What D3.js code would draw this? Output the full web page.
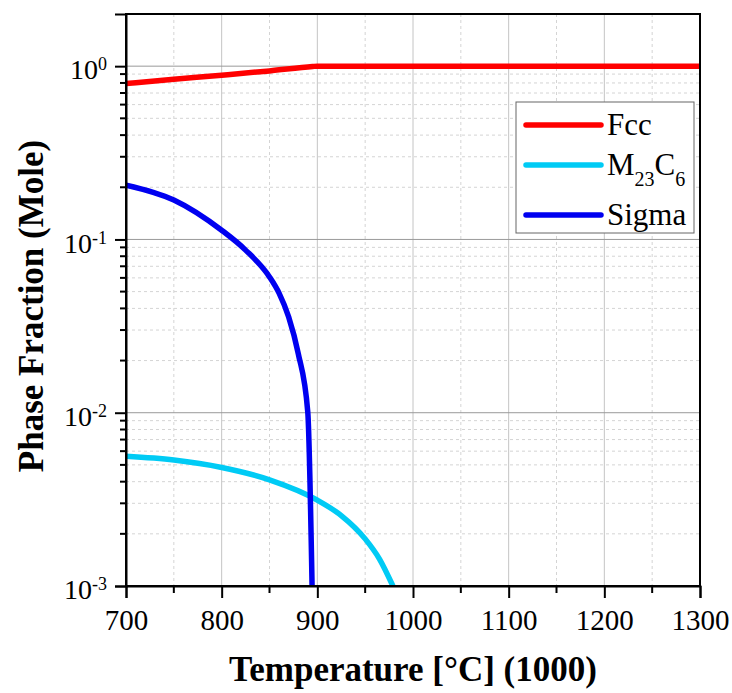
<!DOCTYPE html>
<html>
<head>
<meta charset="utf-8">
<script src="https://cdn.jsdelivr.net/npm/d3@7"></script>
<style>
  body { margin: 0; background: #fff; }
  svg { display: block; }
</style>
</head>
<body>
<script>
// values
const fccTemp = [700, 750, 800, 850, 895, 900, 1000, 1100, 1200, 1300];
const fccFrac = [0.794, 0.84, 0.887, 0.939, 0.995, 1.0, 1.0, 1.0, 1.0, 1.0];

const m23Temp = [700, 750, 800, 850, 900, 925, 950, 965, 979];
const m23Frac = [0.0056, 0.00533, 0.00483, 0.0041, 0.00313, 0.00255, 0.00187, 0.00143, 0.001];

const sigmaTemp = [700, 750, 800, 825, 850, 860, 870, 880, 890, 894.5];
const sigmaFrac = [0.206, 0.169, 0.113, 0.0868, 0.0608, 0.049, 0.0357, 0.022, 0.0101, 0.001];

const xTicks = [700, 800, 900, 1000, 1100, 1200, 1300];
const yTicks = [1e-3, 1e-2, 1e-1, 1];
const yExp = ["-3", "-2", "-1", "0"];

const seriesNames = ["Fcc", "M23C6", "Sigma"];
const seriesColors = ["#ff0000", "#00cbf5", "#0000f0"];

const serif = "'Liberation Serif', 'Times New Roman', serif";

margin = { top: 14, left: 126, bottom: 107, right: 32 };
W = 732;
H = 693;
width = W - margin.left - margin.right;
height = H - margin.top - margin.bottom;

const svg = d3.create("svg").attr("width", W).attr("height", H);

const x = d3.scaleLinear().domain([700, 1300]).range([0, width]);
const y = d3.scaleLog().domain([1e-3, 2]).range([height, 0]);

const chart = svg
  .append("g")
  .attr("transform", `translate(${margin.left},${margin.top})`);

chart.append("defs").append("clipPath").attr("id", "clip")
  .append("rect").attr("width", width).attr("height", height);

// minor grid (dashed)
const xMinor = d3.range(750, 1300, 100);
chart.append("g").selectAll("line").data(xMinor).join("line")
  .attr("x1", (d) => x(d)).attr("x2", (d) => x(d))
  .attr("y1", 0).attr("y2", height)
  .attr("stroke", "#d4d4d4").attr("stroke-dasharray", "3,3");

const yMinor = [];
[1e-3, 1e-2, 1e-1, 1].forEach((dec) => {
  for (let k = 2; k <= 9; k++) if (dec * k < 2) yMinor.push(dec * k);
});
chart.append("g").selectAll("line").data(yMinor).join("line")
  .attr("x1", 0).attr("x2", width)
  .attr("y1", (d) => y(d)).attr("y2", (d) => y(d))
  .attr("stroke", "#d4d4d4").attr("stroke-dasharray", "3,3");

// major grid
chart.append("g").selectAll("line").data(xTicks.slice(1, -1)).join("line")
  .attr("x1", (d) => x(d)).attr("x2", (d) => x(d))
  .attr("y1", 0).attr("y2", height)
  .attr("stroke", "#c4c4c4");
chart.append("g").selectAll("line").data(yTicks.slice(1)).join("line")
  .attr("x1", 0).attr("x2", width)
  .attr("y1", (d) => y(d)).attr("y2", (d) => y(d))
  .attr("stroke", "#999");

// curves
const series = [
  fccTemp.map((t, i) => ({ t, v: fccFrac[i] })),
  m23Temp.map((t, i) => ({ t, v: m23Frac[i] })),
  sigmaTemp.map((t, i) => ({ t, v: sigmaFrac[i] })),
];
const line = d3.line()
  .x((d) => x(d.t))
  .y((d) => y(d.v))
  .curve(d3.curveMonotoneX);

chart.append("g").attr("clip-path", "url(#clip)")
  .selectAll("path").data(series).join("path")
  .attr("fill", "none")
  .attr("stroke", (d, i) => seriesColors[i])
  .attr("stroke-width", 5.5)
  .attr("d", (d) => line(d));

// frame
chart.append("rect").attr("width", width).attr("height", height)
  .attr("fill", "none").attr("stroke", "#000").attr("stroke-width", 2);

// x axis
const xAxis = chart.append("g").attr("transform", `translate(0,${height})`)
  .call(d3.axisBottom(x).tickValues(xTicks).tickSize(12).tickPadding(11).tickFormat(d3.format("d")));
xAxis.append("g").selectAll("line").data(xMinor).join("line")
  .attr("x1", (d) => x(d)).attr("x2", (d) => x(d))
  .attr("y1", 0).attr("y2", 7).attr("stroke", "#000").attr("stroke-width", 2);

// y axis
const yAxis = chart.append("g")
  .call(d3.axisLeft(y).tickValues(yTicks).tickSize(11).tickPadding(8).tickFormat(() => ""));
yAxis.append("g").selectAll("line").data(yMinor).join("line")
  .attr("x1", 0).attr("x2", -6)
  .attr("y1", (d) => y(d)).attr("y2", (d) => y(d))
  .attr("stroke", "#000").attr("stroke-width", 2);

yAxis.selectAll(".tick text").each(function (d, i) {
  const t = d3.select(this);
  t.append("tspan").text("10");
  t.append("tspan").attr("dy", "-0.5em").text(yExp[i]);
});

[xAxis, yAxis].forEach((a) => {
  a.select(".domain").attr("stroke-width", 2);
  a.selectAll(".tick line").attr("stroke-width", 2);
  a.selectAll("text")
    .attr("font-family", serif)
    .attr("font-size", 29).attr("fill", "#000");
});
yAxis.selectAll(".tick text").attr("font-size", 28).attr("dy", "0.45em");
yAxis.selectAll(".tick text tspan:nth-child(2)").attr("font-size", 18);

// axis titles
svg.append("text")
  .attr("x", margin.left + width / 2).attr("y", 681)
  .attr("text-anchor", "middle")
  .attr("font-family", serif)
  .attr("font-weight", "bold").attr("font-size", 35)
  .text("Temperature [°C] (1000)");

svg.append("text")
  .attr("transform", "translate(43,306) rotate(-90)")
  .attr("text-anchor", "middle")
  .attr("font-family", serif)
  .attr("font-weight", "bold").attr("font-size", 35)
  .text("Phase Fraction (Mole)");

// legend
const legend = svg.append("g").attr("transform", "translate(516,102)");
legend.append("rect").attr("width", 178).attr("height", 131)
  .attr("fill", "#fff").attr("stroke", "#666").attr("stroke-width", 1);
const rowY = [23, 63, 113];
const rows = legend.selectAll("g.row").data(seriesNames).join("g")
  .attr("class", "row")
  .attr("transform", (d, i) => `translate(0,${rowY[i]})`);
rows.append("line").attr("x1", 10).attr("x2", 85)
  .attr("stroke", (d, i) => seriesColors[i])
  .attr("stroke-width", 5.5).attr("stroke-linecap", "round");
rows.append("text").attr("x", 91).attr("y", 10)
  .attr("font-family", serif)
  .attr("font-size", 31)
  .each(function (d) {
    const t = d3.select(this);
    if (d === "M23C6") {
      t.append("tspan").text("M");
      t.append("tspan").attr("font-size", 20).attr("dy", 11).text("23");
      t.append("tspan").attr("dy", -11).text("C");
      t.append("tspan").attr("font-size", 20).attr("dy", 11).text("6");
    } else {
      t.text(d);
    }
  });

d3.select("body").append(() => svg.node());
</script>
</body>
</html>
